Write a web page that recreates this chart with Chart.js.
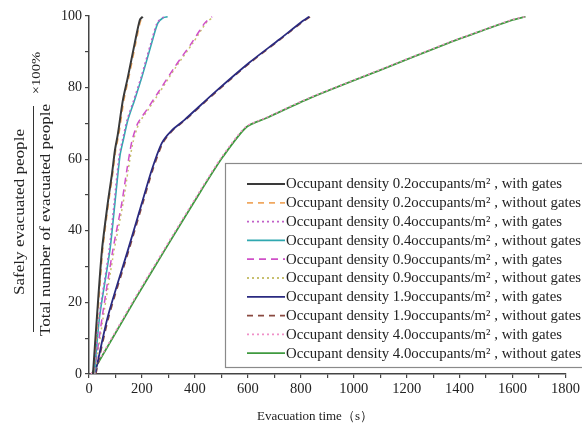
<!DOCTYPE html>
<html>
<head>
<meta charset="utf-8">
<script src="https://cdn.jsdelivr.net/npm/chart.js@4"></script>
<style>
html, body { margin: 0; padding: 0; background: #fff; }
#wrap { width: 582px; height: 428px; }
</style>
</head>
<body>
<div id="wrap"><canvas id="chart" width="582" height="428"></canvas></div>
<script>
// evacuation time (s) and share of safely evacuated people (%) per case
const t02g = [15, 30, 49, 71, 87, 98, 109, 128, 147, 173, 192, 203];
const p02g = [0, 16, 34.6, 47.8, 56, 62.5, 67, 76.5, 83, 92.5, 98.9, 99.8];
const t02n = [17, 33, 52, 74, 90, 101, 113, 132, 151, 177, 196, 207];
const p02n = [0, 16, 34.6, 47.8, 56, 62.5, 67, 76.5, 83, 92.5, 98.9, 99.8];

const t04g = [18, 38, 76, 95, 114, 127, 144, 169, 197, 234, 257, 277, 294];
const p04g = [0, 16, 34.6, 47.8, 61, 65.5, 71, 76.5, 83, 92.5, 98, 99.5, 99.8];
const t04n = [20, 40, 79, 98, 117, 130, 147, 172, 200, 237, 260, 280, 297];
const p04n = [0, 16, 34.6, 47.8, 61, 65.5, 71, 76.5, 83, 92.5, 98, 99.5, 99.8];

const t09g = [20, 50, 90, 124, 143, 162, 184, 220, 260, 324, 388, 437, 465];
const p09g = [0, 16, 34.6, 47.8, 57, 65, 70, 74, 78.5, 85.8, 92.5, 98, 99.8];
const t09n = [22, 54, 95, 129, 148, 167, 189, 225, 265, 329, 393, 442, 470];
const p09n = [0, 16, 34.6, 47.8, 57, 65, 70, 74, 78.5, 85.8, 92.5, 98, 99.8];

const t19g = [23, 71, 147, 200, 237, 275, 312, 361, 480, 606, 720, 800, 832];
const p19g = [0, 16, 34.6, 47.8, 57, 64.5, 68, 71, 79, 87, 93.5, 98.2, 99.8];
const t19n = [26, 75, 151, 204, 241, 279, 316, 365, 484, 610, 724, 804, 836];
const p19n = [0, 16, 34.6, 47.8, 57, 64.5, 68, 71, 79, 87, 93.5, 98.2, 99.8];

const t40g = [8, 169, 282, 421, 501, 591, 666, 828, 1096, 1355, 1496, 1596, 1645];
const p40g = [0, 20.7, 34.6, 51.4, 60.6, 69, 71.5, 77, 84.9, 92.5, 96.3, 98.9, 99.8];
const t40n = [10, 173, 286, 425, 505, 595, 670, 832, 1100, 1359, 1500, 1600, 1649];
const p40n = [0, 20.7, 34.6, 51.4, 60.6, 69, 71.5, 77, 84.9, 92.5, 96.3, 98.9, 99.8];

const densities = ['0.2', '0.2', '0.4', '0.4', '0.9', '0.9', '1.9', '1.9', '4.0', '4.0'];
const withGates = [true, false, true, false, true, false, true, false, true, false];
const timeSeries = [t02g, t02n, t04g, t04n, t09g, t09n, t19g, t19n, t40g, t40n];
const shareSeries = [p02g, p02n, p04g, p04n, p09g, p09n, p19g, p19n, p40g, p40n];
const xTicks = [0, 200, 400, 600, 800, 1000, 1200, 1400, 1600, 1800];
const yTicks = [0, 20, 40, 60, 80, 100];

const colors = ['#3a3a3a', '#f0a860', '#c060c8', '#30a8b0', '#d050c8', '#c8c070', '#2a2a80', '#8a4a40', '#f090c8', '#3f9a3f'];
const dashes = [[], [6, 5], [2, 3], [], [7, 5], [2, 3], [], [6, 5], [2, 3], []];
const widths = [2, 1.5, 1.5, 1.6, 1.5, 1.5, 1.8, 1.5, 1.5, 1.8];

const SERIF = "'Liberation Serif', 'DejaVu Serif', serif";

function labelFor(i) {
    return 'Occupant density ' + densities[i] + 'occupants/m\u00b2 , ' + (withGates[i] ? 'with gates' : 'without gates');
}

const datasets = timeSeries.map((ts, i) => ({
    label: labelFor(i),
    data: ts.map((t, k) => ({ x: t, y: shareSeries[i][k] })),
    showLine: true,
    borderColor: colors[i],
    backgroundColor: colors[i],
    borderWidth: widths[i],
    borderDash: dashes[i],
    pointRadius: 0,
    tension: 0.25,
    fill: false
}));

const legendBox = {
    id: 'legendBox',
    afterDatasetsDraw(chart) {
        const ctx = chart.ctx;
        ctx.save();
        ctx.fillStyle = '#fff';
        ctx.fillRect(225, 163, 370, 204);
        ctx.strokeStyle = '#8a8a8a';
        ctx.lineWidth = 1.2;
        ctx.strokeRect(225.5, 163.5, 370, 204);
        ctx.font = '14.8px ' + SERIF;
        ctx.textBaseline = 'middle';
        chart.data.datasets.forEach((ds, i) => {
            const y = 184 + i * 18.8;
            ctx.strokeStyle = ds.borderColor;
            ctx.lineWidth = Math.max(ds.borderWidth, 1.8);
            ctx.setLineDash(ds.borderDash);
            ctx.beginPath();
            ctx.moveTo(247, y);
            ctx.lineTo(285, y);
            ctx.stroke();
            ctx.setLineDash([]);
            ctx.fillStyle = '#222';
            ctx.fillText(ds.label, 286, y + 0.5);
        });
        ctx.restore();
    }
};

const axisTitles = {
    id: 'axisTitles',
    afterDraw(chart) {
        const ctx = chart.ctx;
        ctx.save();
        ctx.fillStyle = '#222';
        ctx.font = '13px ' + SERIF;
        ctx.textAlign = 'center';
        ctx.textBaseline = 'middle';
        ctx.fillText('Evacuation time\uff08s\uff09', 315, 417);

        ctx.rotate(-Math.PI / 2);
        ctx.scale(1.22, 1);
        ctx.font = '14px ' + SERIF;
        ctx.fillText('Safely evacuated people', -212 / 1.22, 20);
        ctx.fillText('Total number of evacuated people', -220 / 1.22, 46);
        ctx.font = '12px ' + SERIF;
        ctx.fillText('\u00d7100%', -73 / 1.22, 37);
        ctx.restore();

        ctx.save();
        ctx.strokeStyle = '#333';
        ctx.lineWidth = 1;
        ctx.beginPath();
        ctx.moveTo(33.5, 332);
        ctx.lineTo(33.5, 106);
        ctx.stroke();
        ctx.restore();
    }
};

new Chart(document.getElementById('chart'), {
    type: 'scatter',
    data: { datasets: datasets },
    options: {
        responsive: false,
        animation: false,
        devicePixelRatio: 1,
        layout: { padding: { top: 16, right: 15, left: 0, bottom: 0 } },
        plugins: {
            legend: { display: false },
            tooltip: { enabled: false }
        },
        scales: {
            x: {
                type: 'linear',
                min: 0,
                max: 1800,
                afterFit: s => { s.height = 54; },
                afterBuildTicks: s => { s.ticks = []; for (let v = 0; v <= 1800; v += 100) s.ticks.push({ value: v }); },
                ticks: {
                    autoSkip: false,
                    maxRotation: 0,
                    padding: 2,
                    color: '#222',
                    font: { family: SERIF, size: 14.5 },
                    callback: v => xTicks.includes(v) ? String(v) : ''
                },
                grid: { drawOnChartArea: false, drawTicks: true, tickLength: 4, color: '#444', lineWidth: 1.2 },
                border: { display: true, color: '#444', width: 1.5 }
            },
            y: {
                min: 0,
                max: 100,
                afterFit: s => { s.width = 89; },
                afterBuildTicks: s => { s.ticks = []; for (let v = 0; v <= 100; v += 10) s.ticks.push({ value: v }); },
                ticks: {
                    autoSkip: false,
                    padding: 3,
                    color: '#222',
                    font: { family: SERIF, size: 14 },
                    callback: v => yTicks.includes(v) ? String(v) : ''
                },
                grid: { drawOnChartArea: false, drawTicks: true, tickLength: 4, color: '#444', lineWidth: 1.2 },
                border: { display: true, color: '#444', width: 1.5 }
            }
        }
    },
    plugins: [legendBox, axisTitles]
});
</script>
</body>
</html>
